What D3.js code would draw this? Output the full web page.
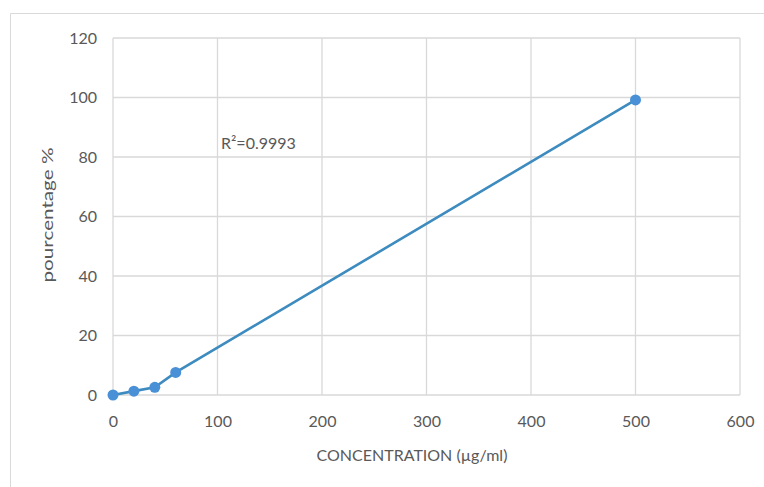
<!DOCTYPE html>
<html>
<head>
<meta charset="utf-8">
<script src="https://cdn.jsdelivr.net/npm/d3@7"></script>
<style>
  html, body { margin: 0; padding: 0; background: #fff; }
  svg { display: block; }
  text { font-family: Lato, "Open Sans", sans-serif; fill: #595959; }
</style>
</head>
<body>
<script>
// Calibration series: concentration vs percentage
const concentrations = [0, 20, 40, 60, 500];
const percentages = [0, 1.3, 2.6, 7.6, 99.2];
const xTicks = [0, 100, 200, 300, 400, 500, 600];
const yTicks = [0, 20, 40, 60, 80, 100, 120];
const r2Label = "R²=0.9993";
const xTitle = "CONCENTRATION (µg/ml)";
const yTitle = "pourcentage %";

const W = 764, H = 487;
const plot = { left: 113, right: 740, top: 38, bottom: 395 };

const svg = d3.select("body").append("svg").attr("width", W).attr("height", H);

// chart frame
svg.append("path")
  .attr("d", `M10.5,${H} V13.5 H${W}`)
  .attr("fill", "none").attr("stroke", "#d9d9d9").attr("stroke-width", 1);

const x = d3.scaleLinear().domain([0, 600]).range([plot.left, plot.right]);
const y = d3.scaleLinear().domain([0, 120]).range([plot.bottom, plot.top]);

// gridlines
const grid = svg.append("g").attr("stroke", "#d9d9d9").attr("stroke-width", 1.3);
grid.selectAll("line.h").data(yTicks).join("line")
  .attr("x1", plot.left).attr("x2", plot.right)
  .attr("y1", d => y(d)).attr("y2", d => y(d));
grid.selectAll("line.v").data(xTicks).join("line")
  .attr("y1", plot.top).attr("y2", plot.bottom)
  .attr("x1", d => x(d)).attr("x2", d => x(d));

// axes (labels only, Excel-like)
const xAxis = svg.append("g").attr("transform", `translate(0,${plot.bottom})`)
  .call(d3.axisBottom(x).tickValues(xTicks).tickSize(0).tickPadding(21));
const yAxis = svg.append("g").attr("transform", `translate(${plot.left},0)`)
  .call(d3.axisLeft(y).tickValues(yTicks).tickSize(0).tickPadding(16));
[xAxis, yAxis].forEach(a => {
  a.select(".domain").remove();
  a.selectAll("text").attr("font-size", 16).style("fill", "#595959")
    .attr("font-family", "Lato, 'Open Sans', sans-serif");
});

// series line
const pts = concentrations.map((c, i) => [c, percentages[i]]);
svg.append("path")
  .datum(pts)
  .attr("fill", "none")
  .attr("stroke", "#3d8bbf")
  .attr("stroke-width", 2.6)
  .attr("d", d3.line().x(d => x(d[0])).y(d => y(d[1])));

svg.selectAll("circle.pt").data(pts).join("circle")
  .attr("cx", d => x(d[0])).attr("cy", d => y(d[1]))
  .attr("r", 5.5).attr("fill", "#4a90d6");

// R² annotation
svg.append("text").attr("x", 221).attr("y", 149)
  .attr("font-size", 16).text(r2Label);

// axis titles
svg.append("text").attr("x", 412).attr("y", 461)
  .attr("text-anchor", "middle").attr("font-size", 16).text(xTitle);
svg.append("text")
  .attr("transform", `translate(53,215) rotate(-90)`)
  .attr("text-anchor", "middle").attr("font-size", 16)
  .attr("textLength", 135).attr("lengthAdjust", "spacingAndGlyphs")
  .text(yTitle);
</script>
</body>
</html>
